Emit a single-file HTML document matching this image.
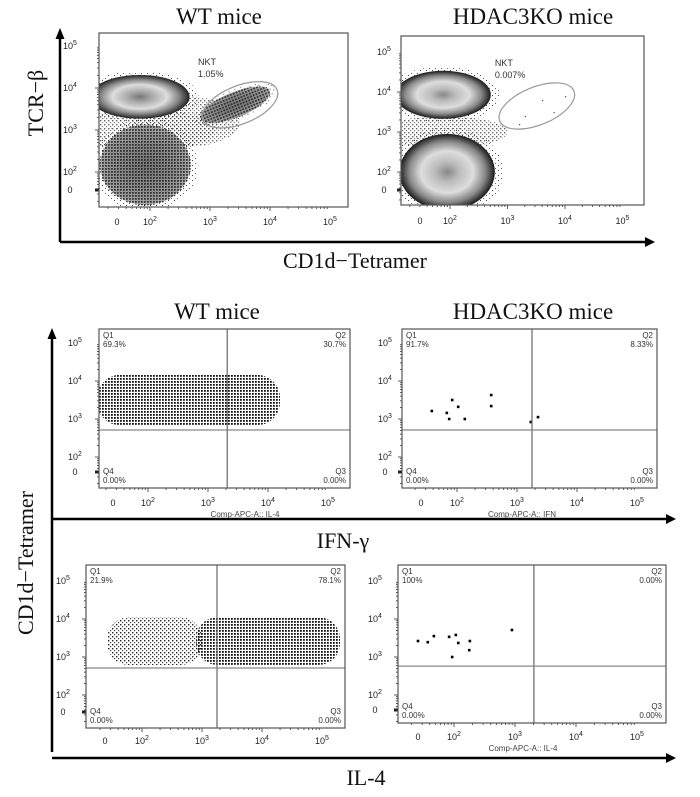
<!DOCTYPE html>
<html><head><meta charset="utf-8"><style>
html,body{margin:0;padding:0;background:#fff;}
svg{display:block;}
text{font-family:"Liberation Sans",sans-serif;}
.serif{font-family:"Liberation Serif",serif;}
</style></head><body>
<svg id="chart" width="700" height="797" viewBox="0 0 700 797" xmlns="http://www.w3.org/2000/svg">
<defs>
<pattern id="dense" width="3" height="3" patternUnits="userSpaceOnUse"><rect width="1.8" height="1.8" fill="#111"/></pattern>
<pattern id="med" width="4" height="4" patternUnits="userSpaceOnUse"><rect width="1.4" height="1.4" fill="#222"/><rect x="2" y="2" width="1.2" height="1.2" fill="#444"/></pattern>
<pattern id="sparse" width="6" height="5" patternUnits="userSpaceOnUse"><rect width="1" height="1" fill="#444"/><rect x="3" y="3" width="1" height="1" fill="#666"/></pattern>
<radialGradient id="gWT1"><stop offset="0" stop-color="#777"/><stop offset="0.25" stop-color="#aaa"/><stop offset="0.55" stop-color="#ddd"/><stop offset="0.78" stop-color="#888"/><stop offset="1" stop-color="#222"/></radialGradient>
<radialGradient id="gDark"><stop offset="0" stop-color="#777"/><stop offset="0.5" stop-color="#888"/><stop offset="0.85" stop-color="#999"/><stop offset="1" stop-color="#aaa"/></radialGradient>
<radialGradient id="gKO"><stop offset="0" stop-color="#888"/><stop offset="0.25" stop-color="#bbb"/><stop offset="0.55" stop-color="#ddd"/><stop offset="0.8" stop-color="#888"/><stop offset="1" stop-color="#1a1a1a"/></radialGradient>
</defs>
</svg>
<script>
// ---- data (log10 units) ----
// top panels: population centers / spreads (TCR+ CD1d-, DN, NKT)
const wtPopX  = [1.83, 1.92, 3.42];
const wtPopY  = [3.79, 2.17, 3.60];
const wtPopSX = [0.83, 0.75, 0.62];
const wtPopSY = [0.52, 0.95, 0.30];
const koPopX  = [1.88, 1.95];
const koPopY  = [3.93, 2.00];
const koPopSX = [0.83, 0.83];
const koPopSY = [0.60, 0.95];
const gateCX = [3.50, 3.51];
const gateCY = [3.60, 3.65];
const gateLabels = ["1.05%", "0.007%"];
// stimulated panels: WT clouds extents
const ifnCloudX = [1.15, 4.20];
const ifnCloudY = [2.84, 4.16];
const il4SparseX = [1.42, 3.00];
const il4DenseX = [2.90, 5.30];
const il4CloudY = [2.79, 4.05];
// KO scattered events
const koIfnX = [1.58, 1.83, 1.87, 1.92, 2.02, 2.13, 2.57, 2.57, 3.23, 3.35];
const koIfnY = [3.21, 3.16, 3.00, 3.50, 3.32, 3.00, 3.63, 3.34, 2.92, 3.05];
const koIl4X = [1.41, 1.57, 1.67, 1.92, 1.97, 2.03, 2.07, 2.25, 2.26, 2.95];
const koIl4Y = [3.42, 3.39, 3.55, 3.53, 3.00, 3.58, 3.37, 3.18, 3.42, 3.71];
// quadrant gates and percentages
const quadX = [3.32, 3.25, 3.25, 3.31];
const quadY = [2.71, 2.71, 2.71, 2.76];
const q1Pct = ["69.3%", "91.7%", "21.9%", "100%"];
const q2Pct = ["30.7%", "8.33%", "78.1%", "0.00%"];
const q3Pct = ["0.00%", "0.00%", "0.00%", "0.00%"];
const q4Pct = ["0.00%", "0.00%", "0.00%", "0.00%"];
const tickExp = [2, 3, 4, 5];
const yTickExp = [5, 4, 3, 2];

const NS = 'http://www.w3.org/2000/svg';
const svg = document.getElementById('chart');
function mk(tag, attrs, parent){const e=document.createElementNS(NS,tag);for(const k in attrs)e.setAttribute(k,attrs[k]);(parent||svg).appendChild(e);return e;}

const P = {
 tl:{x0:99,x1:348,y0:33,y1:207,x2:150,xd:60,y2:172,yd:42,zx:117,zy:190,tly:225,ylx:70},
 tr:{x0:401,x1:644,y0:36,y1:205,x2:450,xd:57.5,y2:172,yd:40,zx:420,zy:190,tly:224,ylx:384},
 ml:{x0:99,x1:350,y0:329,y1:488,x2:148,xd:60,y2:457,yd:38,zx:113,zy:472,tly:506,ylx:75},
 mr:{x0:402,x1:657,y0:329,y1:488,x2:457,xd:60,y2:457,yd:38,zx:421,zy:472,tly:506,ylx:385},
 bl:{x0:86,x1:345,y0:565,y1:728,x2:142,xd:60,y2:695,yd:38,zx:105,zy:712,tly:744,ylx:63},
 br:{x0:398,x1:666,y0:565,y1:723,x2:454,xd:61,y2:695,yd:38,zx:418,zy:710,tly:740,ylx:375}
};
function sx(p,v){return p.x2+(v-2)*p.xd;}
function sy(p,v){return p.y2-(v-2)*p.yd;}

function panelFrame(key, name){
  const p=P[key];
  const g=mk('g',{});
  
  
  const cp=mk('clipPath',{id:'clip-'+key},g);
  mk('rect',{x:p.x0,y:p.y0,width:p.x1-p.x0,height:p.y1-p.y0},cp);
  const inner=mk('g',{'clip-path':'url(#clip-'+key+')'},g);
  p.g=g; p.inner=inner;
  tickExp.forEach(e=>{
    const t=mk('text',{x:sx(p,e),y:p.tly,'font-size':9,'text-anchor':'middle',fill:'#222'},g);
    
    
    t.textContent='10';
    const s=mk('tspan',{dy:-4,'font-size':7},t); s.textContent=e;
    for(let k=1;k<10;k++){const xx=sx(p,e-1+Math.log10(k)); if(xx>p.x0&&xx<p.x1) mk('line',{x1:xx,x2:xx,y1:p.y1,y2:p.y1+(k==1?4:2),stroke:'#333','stroke-width':0.8},g);}
  });
  const z=mk('text',{x:p.zx,y:p.tly,'font-size':9,'text-anchor':'middle',fill:'#222'},g);
  
  
  z.textContent='0';
  yTickExp.forEach(e=>{
    const t=mk('text',{x:p.ylx,y:sy(p,e)+3,'font-size':9,'text-anchor':'middle',fill:'#222'},g);
    
    
    t.textContent='10';
    const s=mk('tspan',{dy:-4,'font-size':7},t); s.textContent=e;
    for(let k=1;k<10;k++){const yy=sy(p,e-1+Math.log10(k)); if(yy>p.y0&&yy<p.y1) mk('line',{x1:p.x0-(k==1?4:2),x2:p.x0,y1:yy,y2:yy,stroke:'#333','stroke-width':0.8},g);}
  });
  const zy=mk('text',{x:p.ylx,y:p.zy+3,'font-size':9,'text-anchor':'middle',fill:'#222'},g);
  
  
  zy.textContent='0';
  mk('rect',{x:p.x0-4,y:p.zy-1.5,width:4,height:3,fill:'#222'},g);
  return p;
}
function box(p){
  const b=mk('rect',{x:p.x0,y:p.y0,width:p.x1-p.x0,height:p.y1-p.y0,fill:'none',stroke:'#555','stroke-width':1.2},p.g);
  
  
}

// ---- top panels ----
const tl=panelFrame('tl','wt-tcr-plot');
const tr=panelFrame('tr','ko-tcr-plot');
function pop(p,cx,cy,rx,ry,fill,name,rot,speckle){
  const X=sx(p,cx),Y=sy(p,cy),RX=rx*p.xd,RY=ry*p.yd;
  const tf='rotate('+(rot||0)+' '+X+' '+Y+')';
  const h=mk('ellipse',{cx:X,cy:Y,rx:RX*1.18,ry:RY*1.18,fill:'url(#sparse)',transform:tf},p.inner);
  
  
  const e=mk('ellipse',{cx:X,cy:Y,rx:RX,ry:RY,fill:fill,transform:tf},p.inner);
  
  
  if(speckle){
    const s=mk('ellipse',{cx:X,cy:Y,rx:RX*1.02,ry:RY*1.02,fill:'url(#dense)',opacity:0.75,transform:tf},p.inner);
    
    
  }
}
[[tl,1.9,3.0,1.2,0.5],[tl,2.6,3.2,0.9,0.6],[tr,1.9,3.0,1.1,0.4]].forEach(a=>{
  const p=a[0];
  const s=mk('ellipse',{cx:sx(p,a[1]),cy:sy(p,a[2]),rx:a[3]*p.xd,ry:a[4]*p.yd,fill:'url(#med)',opacity:0.7},p.inner);
  
  
});
const wtFill=['url(#gWT1)','url(#gDark)','url(#gDark)'];
const wtNames=['wt-tcr-positive-population','wt-double-negative-population','wt-nkt-population'];
wtPopX.forEach((v,i)=>pop(tl,v,wtPopY[i],wtPopSX[i],wtPopSY[i],wtFill[i],wtNames[i],i==2?-22:0,i>0));
const koNames=['ko-tcr-positive-population','ko-double-negative-population'];
koPopX.forEach((v,i)=>pop(tr,v,koPopY[i],koPopSX[i],koPopSY[i],'url(#gKO)',koNames[i],0,false));
[tl,tr].forEach((p,i)=>{
  const X=sx(p,gateCX[i]),Y=sy(p,gateCY[i]);
  const e=mk('ellipse',{cx:X,cy:Y,rx:40,ry:19,fill:'none',stroke:'#999','stroke-width':1.2,transform:'rotate(-22 '+X+' '+Y+')'},p.g);
  
  
  const t1=mk('text',{x:X-42,y:Y-40,'font-size':9,fill:'#333'},p.g);
  
  
  t1.textContent='NKT';
  const t2=mk('text',{x:X-42,y:Y-28,'font-size':9,fill:'#333'},p.g);
  
  
  t2.textContent=gateLabels[i];
});
[[3.3,3.4],[3.6,3.8],[3.8,3.5],[3.2,3.2],[4.0,3.9]].forEach(d=>{
  const c=mk('rect',{x:sx(tr,d[0]),y:sy(tr,d[1]),width:1.2,height:1.2,fill:'#555'},tr.inner);
  
  
});
box(tl); box(tr);

// ---- stimulated panels ----
const keys=['ml','mr','bl','br'];
const names=['wt-ifn-plot','ko-ifn-plot','wt-il4-plot','ko-il4-plot'];
const stim=keys.map((k,i)=>panelFrame(k,names[i]));
function cloud(p,xr,yr,fill,name){
  const X0=sx(p,xr[0]),X1=sx(p,xr[1]),Y0=sy(p,yr[1]),Y1=sy(p,yr[0]);
  const r=mk('rect',{x:X0,y:Y0,width:X1-X0,height:Y1-Y0,rx:(Y1-Y0)/2.2,ry:(Y1-Y0)/2.2,fill:fill},p.inner);
  
  
}
cloud(stim[0],ifnCloudX,ifnCloudY,'url(#dense)','wt-ifn-cells');
cloud(stim[2],il4SparseX,il4CloudY,'url(#med)','wt-il4-cells-sparse');
cloud(stim[2],il4DenseX,il4CloudY,'url(#dense)','wt-il4-cells-dense');
koIfnX.forEach((v,i)=>{
  const c=mk('rect',{x:sx(stim[1],v)-1.3,y:sy(stim[1],koIfnY[i])-1.3,width:2.6,height:2.6,fill:'#000'},stim[1].inner);
  
  
});
koIl4X.forEach((v,i)=>{
  const c=mk('rect',{x:sx(stim[3],v)-1.3,y:sy(stim[3],koIl4Y[i])-1.3,width:2.6,height:2.6,fill:'#000'},stim[3].inner);
  
  
});
stim.forEach((p,i)=>{
  const vx=sx(p,quadX[i]),hy=sy(p,quadY[i]);
  const l1=mk('line',{x1:vx,x2:vx,y1:p.y0,y2:p.y1,stroke:'#666','stroke-width':1.2},p.g);
  
  
  const l2=mk('line',{x1:p.x0,x2:p.x1,y1:hy,y2:hy,stroke:'#888','stroke-width':1.2},p.g);
  
  
  const labs=[['Q1',q1Pct[i],p.x0+4,p.y0+9,'start'],['Q2',q2Pct[i],p.x1-4,p.y0+9,'end'],['Q4',q4Pct[i],p.x0+4,p.y1-14,'start'],['Q3',q3Pct[i],p.x1-4,p.y1-14,'end']];
  labs.forEach(L=>{
    const a=mk('text',{x:L[2],y:L[3],'font-size':8,fill:'#333','text-anchor':L[4]},p.g);
    
    
    a.textContent=L[0];
    const b=mk('text',{x:L[2],y:L[3]+9,'font-size':8,fill:'#333','text-anchor':L[4]},p.g);
    
    
    b.textContent=L[1];
  });
  box(p);
});
[[245,517,'Comp-APC-A:: IL-4'],[522,517,'Comp-APC-A:: IFN'],[523,751,'Comp-APC-A:: IL-4']].forEach(c=>{
  const t=mk('text',{x:c[0],y:c[1],'font-size':8,fill:'#444','text-anchor':'middle'});
  
  
  t.textContent=c[2];
});

// ---- big axes ----
function arrowLine(x1,y1,x2,y2,name){
  const g=mk('g',{});
  
  
  mk('line',{x1:x1,y1:y1,x2:x2,y2:y2,stroke:'#000','stroke-width':2.5},g);
  if(y1==y2) mk('polygon',{points:(x2+8)+','+y2+' '+(x2-2)+','+(y2-5)+' '+(x2-2)+','+(y2+5),fill:'#000'},g);
  else mk('polygon',{points:x1+','+(y1-8)+' '+(x1-4.5)+','+(y1+3)+' '+(x1+4.5)+','+(y1+3),fill:'#000'},g);
}
arrowLine(60,36,60,242,'top-y-axis-arrow');
arrowLine(60,242,647,242,'top-x-axis-arrow');
arrowLine(52,336,52,752,'bottom-y-axis-arrow');
arrowLine(52,519,668,519,'ifn-x-axis-arrow');
arrowLine(52,758,668,758,'il4-x-axis-arrow');

function label(x,y,txt,size,name,rot){
  const t=mk('text',{x:x,y:y,'font-size':size,'text-anchor':'middle',fill:'#111',class:'serif'});
  if(rot) t.setAttribute('transform','rotate(-90 '+x+' '+y+')');
  
  
  t.textContent=txt;
}
label(219,24,'WT mice',23,'title-wt-top');
label(533,24,'HDAC3KO mice',23,'title-ko-top');
label(217,319,'WT mice',23,'title-wt-middle');
label(533,319,'HDAC3KO mice',23,'title-ko-middle');
label(355,268,'CD1d\u2212Tetramer',22,'top-x-axis-title');
label(43,103,'TCR\u2212\u03b2',22,'top-y-axis-title',true);
label(33,563,'CD1d\u2212Tetramer',22,'bottom-y-axis-title',true);
label(343,548,'IFN-\u03b3',22,'ifn-axis-title');
label(366,785,'IL-4',22,'il4-axis-title');
</script>
</body></html>
